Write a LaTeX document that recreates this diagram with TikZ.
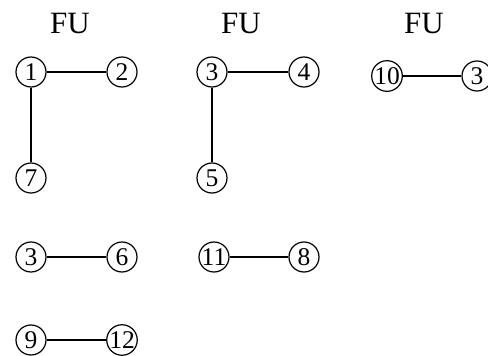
\documentclass[tikz,border=0pt]{standalone}
\usepackage{fontspec}
\setmainfont{Liberation Serif}
\begin{document}
\begin{tikzpicture}[x=1pt,y=-1pt,
  vtx/.style={circle,draw,line width=1.2pt,minimum size=30pt,inner sep=0pt,font=\fontsize{25.5}{25.5}\selectfont},
  fu/.style={font=\fontsize{31}{31}\selectfont},
  edge/.style={line width=1.2pt}]
\useasboundingbox (0,0) rectangle (488,356);
% group labels
\node[fu] (fa) at (70,24) {FU};
\node[fu] (fb) at (241,24) {FU};
\node[fu] (fc) at (424,24) {FU};
% first unit
\node[vtx] (n1) at (31,72) {1};
\node[vtx] (n2) at (122,72) {2};
\node[vtx] (n7) at (31,178) {7};
\draw[edge] (n1) -- (n2);
\draw[edge] (n1) -- (n7);
% second unit
\node[vtx] (m3) at (212,72) {3};
\node[vtx] (m4) at (304,72) {4};
\node[vtx] (m5) at (212,178) {5};
\draw[edge] (m3) -- (m4);
\draw[edge] (m3) -- (m5);
% third unit
\node[vtx] (k10) at (387,76) {10};
\node[vtx] (k3) at (477,76) {3};
\draw[edge] (k10) -- (k3);
% lower pairs
\node[vtx] (p3) at (31,257) {3};
\node[vtx] (p6) at (122,257) {6};
\draw[edge] (p3) -- (p6);
\node[vtx] (q11) at (214,257) {11};
\node[vtx] (q8) at (304,257) {8};
\draw[edge] (q11) -- (q8);
\node[vtx] (r9) at (31,340) {9};
\node[vtx] (r12) at (122,340) {12};
\draw[edge] (r9) -- (r12);
\end{tikzpicture}
\end{document}
